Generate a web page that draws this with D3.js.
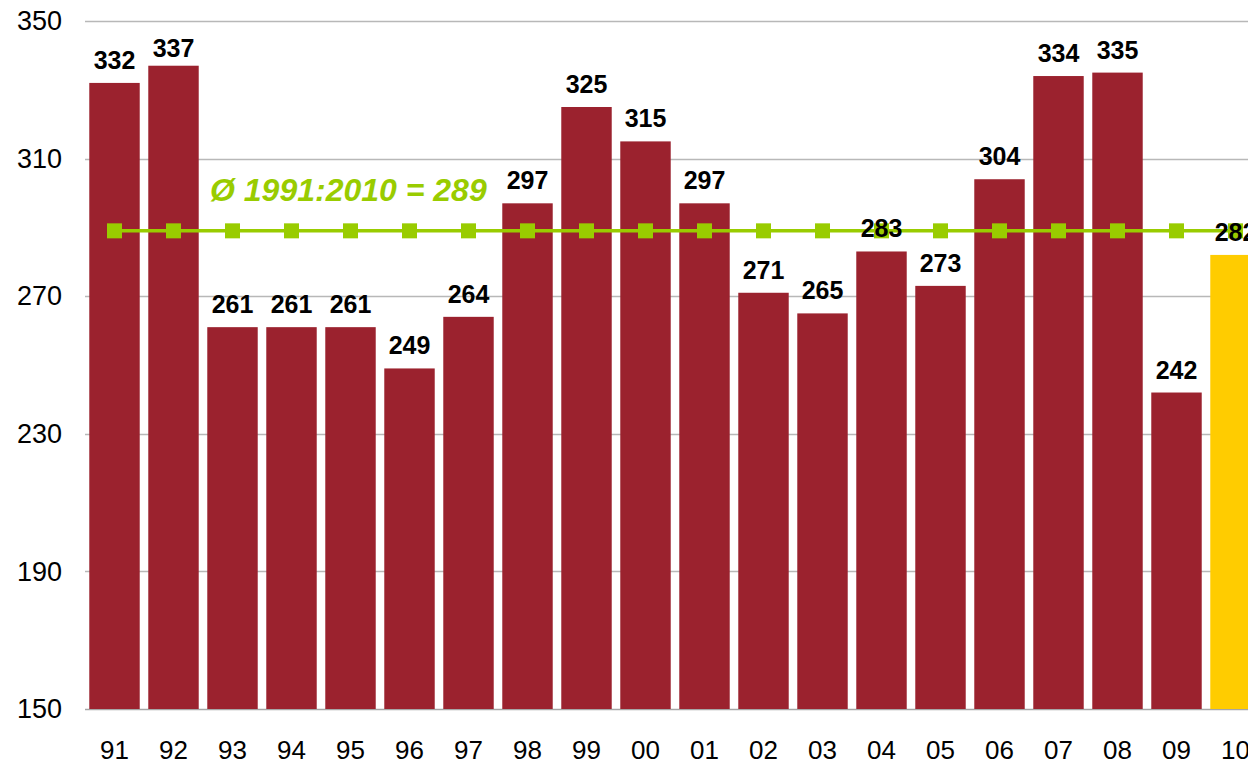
<!DOCTYPE html>
<html>
<head>
<meta charset="utf-8">
<script src="https://cdn.jsdelivr.net/npm/d3@7"></script>
<style>
  html, body { margin: 0; padding: 0; background: #fff; overflow: hidden; }
  svg { display: block; font-family: 'Liberation Sans', Arial, sans-serif; }
</style>
</head>
<body>
<svg id="chart"></svg>
<script>
const width = 1248
const height = 764
const margin = { top: 21, left: 85, bottom: 55 }

// data
const years = ['91', '92', '93', '94', '95', '96', '97', '98', '99', '00',
  '01', '02', '03', '04', '05', '06', '07', '08', '09', '10']
const values = [332, 337, 261, 261, 261, 249, 264, 297, 325, 315,
  297, 271, 265, 283, 273, 304, 334, 335, 242, 282]
const average = 289
const averageLabel = 'Ø 1991:2010 = 289'
const yTicks = [150, 190, 230, 270, 310, 350]

const barColor = '#9b222e'
const lastColor = '#ffcc00'
const green = '#99cc00'

const svg = d3.select('#chart')
  .attr('width', width)
  .attr('height', height)

// the plot runs past the right edge, as in the original crop
const x = d3.scaleBand()
  .domain(years)
  .range([margin.left, margin.left + 59 * years.length])
  .paddingInner(0.145)
  .paddingOuter(0.0725)

const y = d3.scaleLinear()
  .domain([150, 350])
  .range([height - margin.bottom, margin.top])

// gridlines
svg.append('g')
  .selectAll('line')
  .data(yTicks)
  .join('line')
  .attr('x1', margin.left)
  .attr('x2', width)
  .attr('y1', d => Math.round(y(d)) + 0.5)
  .attr('y2', d => Math.round(y(d)) + 0.5)
  .attr('stroke', d => d === 150 ? '#a6a6a6' : '#b8b8b8')
  .attr('stroke-width', 1.3)

// y axis labels
const yAxis = svg.append('g')
  .attr('transform', `translate(${margin.left - 23},0)`)
  .call(d3.axisLeft(y).tickValues(yTicks).tickSize(0).tickPadding(0))
yAxis.select('.domain').remove()
yAxis.selectAll('text')
  .attr('font-family', 'Liberation Sans, Arial, sans-serif')
  .attr('font-size', '27px')
  .attr('fill', '#000')

// x axis labels
const xAxis = svg.append('g')
  .attr('transform', `translate(0,${y(150) + 32})`)
  .call(d3.axisBottom(x).tickSize(0).tickPadding(0))
xAxis.select('.domain').remove()
xAxis.selectAll('text')
  .attr('font-family', 'Liberation Sans, Arial, sans-serif')
  .attr('font-size', '26px')
  .attr('fill', '#000')

// bars
svg.append('g')
  .selectAll('rect')
  .data(values)
  .join('rect')
  .attr('x', (d, i) => x(years[i]))
  .attr('y', d => y(d))
  .attr('width', x.bandwidth())
  .attr('height', d => y(150) - y(d))
  .attr('fill', (d, i) => i === values.length - 1 ? lastColor : barColor)

// average line with square markers
const cx = d => x(d) + x.bandwidth() / 2
svg.append('line')
  .attr('x1', cx(years[0]))
  .attr('x2', cx(years[years.length - 1]))
  .attr('y1', y(average))
  .attr('y2', y(average))
  .attr('stroke', green)
  .attr('stroke-width', 3.5)

svg.append('g')
  .selectAll('rect')
  .data(years)
  .join('rect')
  .attr('x', d => cx(d) - 7.5)
  .attr('y', y(average) - 7.5)
  .attr('width', 15)
  .attr('height', 15)
  .attr('fill', green)

svg.append('text')
  .attr('x', 210)
  .attr('y', y(average) - 30)
  .attr('font-size', '32px')
  .attr('font-weight', 'bold')
  .attr('font-style', 'italic')
  .attr('fill', green)
  .text(averageLabel)

// value labels
svg.append('g')
  .selectAll('text')
  .data(values)
  .join('text')
  .attr('x', (d, i) => cx(years[i]))
  .attr('y', d => Math.max(y(d) - 14, margin.top + 36))
  .attr('text-anchor', 'middle')
  .attr('font-size', '25px')
  .attr('font-weight', 'bold')
  .attr('fill', '#000')
  .text(d => d)
</script>
</body>
</html>
